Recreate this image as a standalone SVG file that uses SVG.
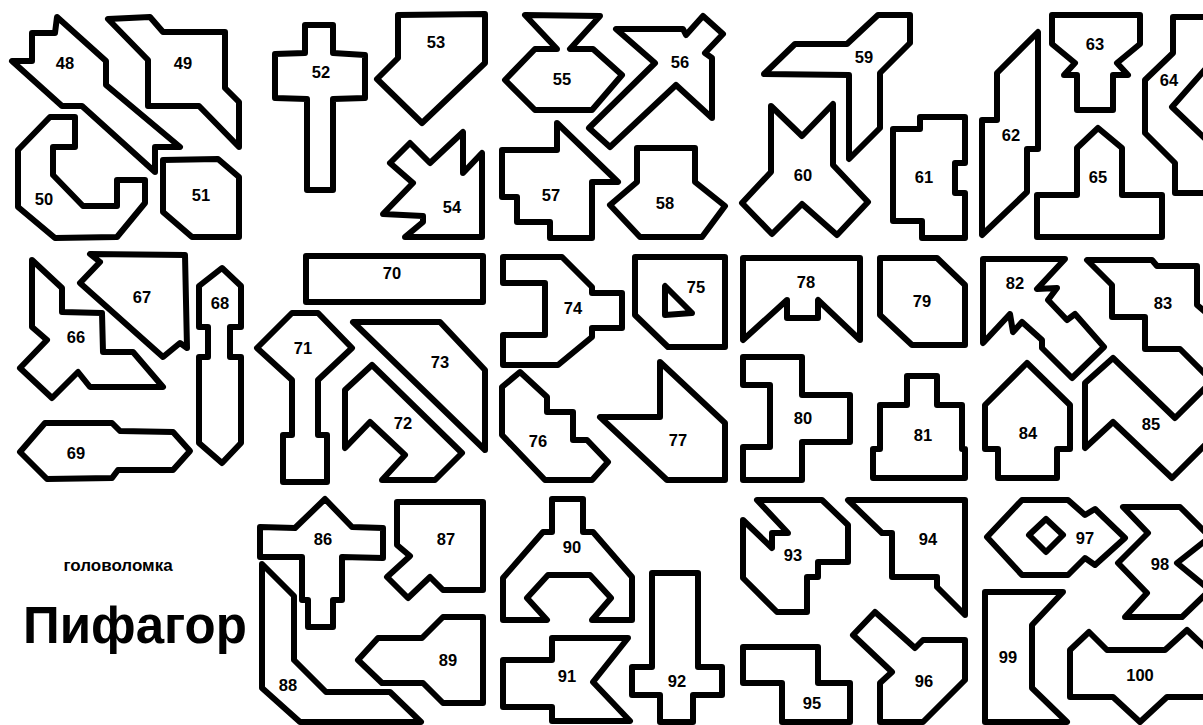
<svg xmlns="http://www.w3.org/2000/svg" width="1203" height="725" viewBox="0 0 1203 725">
<style>
.p{fill:#fff;stroke:#000;stroke-width:6;stroke-linejoin:round}
.t{font-family:"Liberation Sans",Arial,sans-serif;font-weight:bold;font-size:16.5px;text-anchor:middle;fill:#000}
.h{font-family:"Liberation Sans",Arial,sans-serif;font-weight:bold;fill:#000}
</style>
<rect width="1203" height="725" fill="#fff"/>
<g id="p48"><polygon class="p" points="57,17 106,61 106,85 180,147 155,147 155,172 82,106 62,106 12,61 32,61 32,33 55,33"/><text class="t" x="65" y="69">48</text></g>
<g id="p49"><polygon class="p" points="108,19 150,17 163,32 225,32 225,88 239,102 239,147 199,106 148,106 148,60"/><text class="t" x="183" y="69">49</text></g>
<g id="p50"><polygon class="p" points="50,117 75,117 75,147 53,147 53,175 83,206 117,206 117,180 145,180 145,203 117,237 55,238 18,207 18,150"/><text class="t" x="44" y="205">50</text></g>
<g id="p51"><polygon class="p" points="163,160 218,159 239,177 239,237 192,237 163,212"/><text class="t" x="201" y="201">51</text></g>
<g id="p52"><polygon class="p" points="305,25 333,25 333,53 365,55 365,98 333,99 333,190 307,190 307,99 275,98 275,54 305,53"/><text class="t" x="321" y="78">52</text></g>
<g id="p53"><polygon class="p" points="398,15 485,14 485,63 422,123 377,79 398,58"/><text class="t" x="436" y="48">53</text></g>
<g id="p54"><polygon class="p" points="410,143 430,163 463,132 463,173 482,153 482,237 405,237 423,222 423,216 383,214 413,183 390,163"/><text class="t" x="452" y="213">54</text></g>
<g id="p55"><polygon class="p" points="525,15 600,16 570,49 593,49 622,75 592,110 535,110 505,80 535,49 557,49"/><text class="t" x="562" y="85">55</text></g>
<g id="p56"><polygon class="p" points="616,29 683,29 686,35 703,16 723,34 705,53 712,58 712,118 676,85 610,147 589,128 655,63"/><text class="t" x="680" y="68">56</text></g>
<g id="p57"><polygon class="p" points="502,150 557,150 557,123 618,182 592,182 592,238 550,238 550,222 517,222 517,197 502,197"/><text class="t" x="551" y="201">57</text></g>
<g id="p58"><polygon class="p" points="637,148 695,148 695,182 725,206 702,237 640,237 610,205 637,182"/><text class="t" x="665" y="209">58</text></g>
<g id="p59"><polygon class="p" points="764,74 795,44 847,44 878,15 910,15 910,43 880,73 880,128 849,159 849,75"/><text class="t" x="864" y="63">59</text></g>
<g id="p60"><polygon class="p" points="771,106 802,136 833,104 833,165 868,202 837,235 802,204 772,234 742,203 771,172"/><text class="t" x="803" y="181">60</text></g>
<g id="p61"><polygon class="p" points="920,117 965,117 965,163 955,163 955,193 965,193 965,238 922,238 922,221 893,221 893,129 920,129"/><text class="t" x="924" y="183">61</text></g>
<g id="p62"><polygon class="p" points="1038,32 1038,149 1027,149 1027,192 982,235 982,120 997,120 997,73"/><text class="t" x="1011" y="141">62</text></g>
<g id="p63"><polygon class="p" points="1052,15 1140,15 1140,44 1117,63 1128,75 1113,75 1113,110 1077,110 1077,75 1064,75 1075,63 1052,44"/><text class="t" x="1095" y="50">63</text></g>
<g id="p64"><polygon class="p" points="1173,17 1215,17 1215,58 1172,107 1215,148 1215,193 1175,193 1175,163 1145,133 1145,80 1173,53"/><text class="t" x="1169" y="86">64</text></g>
<g id="p65"><polygon class="p" points="1098,128 1122,148 1122,195 1162,195 1162,237 1037,237 1037,195 1077,195 1077,148"/><text class="t" x="1098" y="183">65</text></g>
<g id="p66"><polygon class="p" points="32,260 62,288 62,312 102,313 103,352 133,352 163,387 90,387 78,372 52,398 20,368 47,340 32,327"/><text class="t" x="76" y="343">66</text></g>
<g id="p67"><polygon class="p" points="90,254 185,255 187,348 180,343 163,357 80,283 100,262"/><text class="t" x="142" y="303">67</text></g>
<g id="p68"><polygon class="p" points="222,268 241,286 241,327 230,327 230,357 241,357 241,443 222,463 199,443 199,357 208,357 208,327 199,327 199,286"/><text class="t" x="220" y="309">68</text></g>
<g id="p69"><polygon class="p" points="45,423 112,423 120,431 173,432 190,451 173,470 118,470 112,478 47,479 20,452"/><text class="t" x="76" y="459">69</text></g>
<g id="p70"><rect class="p" x="306" y="256" width="177" height="46"/><text class="t" x="392" y="279">70</text></g>
<g id="p71"><polygon class="p" points="292,313 318,313 352,348 318,380 318,435 327,435 327,482 283,482 283,435 292,435 292,380 257,348"/><text class="t" x="303" y="354">71</text></g>
<g id="p72"><polygon class="p" points="372,365 462,453 435,480 382,480 405,455 370,422 345,448 345,390"/><text class="t" x="403" y="429">72</text></g>
<g id="p73"><polygon class="p" points="353,322 440,322 485,370 485,450"/><text class="t" x="440" y="368">73</text></g>
<g id="p74"><polygon class="p" points="503,257 562,257 592,287 592,293 622,293 622,328 592,328 592,337 558,365 503,365 503,335 545,335 545,283 503,283"/><text class="t" x="573" y="314">74</text></g>
<g id="p75"><polygon class="p" points="635,257 725,257 725,347 668,347 635,315"/><polygon class="p" points="665,286 665,315 692,313"/><text class="t" x="696" y="293">75</text></g>
<g id="p76"><polygon class="p" points="520,372 547,397 547,412 573,412 573,440 587,440 608,462 592,480 545,480 502,435 502,387"/><text class="t" x="538" y="447">76</text></g>
<g id="p77"><polygon class="p" points="660,362 725,423 725,480 667,480 600,417 660,417"/><text class="t" x="678" y="446">77</text></g>
<g id="p78"><polygon class="p" points="743,258 860,258 860,340 818,300 818,318 787,318 787,300 743,340"/><text class="t" x="806" y="288">78</text></g>
<g id="p79"><polygon class="p" points="880,258 937,258 965,285 965,345 912,345 880,315"/><text class="t" x="922" y="307">79</text></g>
<g id="p80"><polygon class="p" points="743,357 802,357 802,395 850,395 850,442 802,442 802,480 743,480 743,447 770,447 770,385 743,385"/><text class="t" x="803" y="424">80</text></g>
<g id="p81"><polygon class="p" points="907,376 937,376 937,405 962,405 962,449 965,449 965,478 873,478 873,449 880,449 880,405 907,405"/><text class="t" x="923" y="441">81</text></g>
<g id="p82"><polygon class="p" points="983,259 1065,259 1037,289 1057,288 1048,300 1067,320 1075,314 1104,347 1072,378 1042,348 1042,340 1022,322 1013,332 1010,314 983,343"/><text class="t" x="1015" y="289">82</text></g>
<g id="p83"><polygon class="p" points="1087,260 1152,260 1157,266 1197,266 1197,305 1215,320 1215,384 1180,349 1145,349 1145,317 1112,317 1112,285"/><text class="t" x="1163" y="309">83</text></g>
<g id="p84"><polygon class="p" points="1027,363 1070,405 1070,449 1057,449 1057,478 998,478 998,449 985,449 985,405"/><text class="t" x="1028" y="439">84</text></g>
<g id="p85"><polygon class="p" points="1113,358 1175,418 1215,378 1215,435 1172,478 1113,422 1085,448 1085,383"/><text class="t" x="1151" y="430">85</text></g>
<g id="p86"><polygon class="p" points="325,499 352,527 383,528 383,558 342,557 342,600 333,600 333,627 308,627 308,600 302,600 302,557 260,557 260,527 295,528"/><text class="t" x="323" y="545">86</text></g>
<g id="p87"><polygon class="p" points="397,502 483,502 483,590 443,590 430,577 408,598 387,577 410,556 397,545"/><text class="t" x="446" y="545">87</text></g>
<g id="p88"><polygon class="p" points="262,564 294,596 294,660 326,692 390,692 421,722 300,722 262,688"/><text class="t" x="288" y="691">88</text></g>
<g id="p89"><polygon class="p" points="443,617 483,617 483,703 443,703 423,683 382,683 358,660 378,638 422,638"/><text class="t" x="448" y="666">89</text></g>
<g id="p90"><polygon class="p" points="552,499 583,499 583,532 593,532 632,577 632,620 592,620 611,598 590,575 548,575 527,598 547,620 503,620 503,578 543,532 552,532"/><text class="t" x="572" y="553">90</text></g>
<g id="p91"><polygon class="p" points="552,638 628,638 593,682 630,721 552,721 552,707 503,707 503,660 552,660"/><text class="t" x="567" y="682">91</text></g>
<g id="p92"><polygon class="p" points="652,573 698,573 698,667 722,667 722,695 693,695 693,722 660,722 660,695 632,695 632,667 652,667"/><text class="t" x="677" y="687">92</text></g>
<g id="p93"><polygon class="p" points="757,500 822,500 848,525 848,562 818,562 818,577 807,577 807,612 777,612 743,578 743,520 772,548 772,533 788,533"/><text class="t" x="793" y="561">93</text></g>
<g id="p94"><polygon class="p" points="848,500 965,500 965,615 937,587 937,577 892,577 892,533 882,533"/><text class="t" x="928" y="545">94</text></g>
<g id="p95"><polygon class="p" points="743,647 818,647 818,683 850,683 850,722 782,722 782,683 743,683"/><text class="t" x="812" y="709">95</text></g>
<g id="p96"><polygon class="p" points="875,612 915,648 923,640 965,640 965,680 923,722 880,722 880,683 892,672 853,635"/><text class="t" x="924" y="687">96</text></g>
<g id="p97"><polygon class="p" points="1022,500 1068,500 1085,515 1095,509 1125,538 1095,565 1085,558 1068,575 1022,575 987,537"/><polygon class="p" points="1046,519 1063,535 1046,552 1029,535"/><text class="t" x="1085" y="544">97</text></g>
<g id="p98"><polygon class="p" points="1123,507 1180,507 1210,537 1177,563 1210,590 1182,617 1125,617 1147,593 1118,563 1148,533"/><text class="t" x="1160" y="570">98</text></g>
<g id="p99"><polygon class="p" points="985,592 1063,592 1032,625 1032,688 1067,722 985,722"/><text class="t" x="1008" y="663">99</text></g>
<g id="p100"><polygon class="p" points="1070,650 1089,632 1107,650 1165,650 1187,630 1208,650 1215,650 1215,697 1167,697 1140,722 1113,697 1070,697"/><text class="t" x="1140" y="681">100</text></g>
<g id="title">
<text class="h" x="118" y="571" font-size="17" text-anchor="middle">головоломка</text>
<text class="h" x="23" y="643" font-size="51">Пифагор</text>
</g>
</svg>
